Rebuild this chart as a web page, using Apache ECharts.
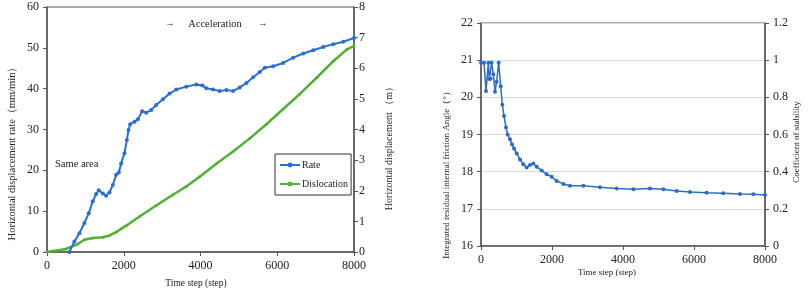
<!DOCTYPE html>
<html>
<head>
<meta charset="utf-8">
<script src="https://cdn.jsdelivr.net/npm/echarts@6/dist/echarts.min.js"></script>
<style>
  html, body { margin: 0; padding: 0; background: #fff; }
  #chart { width: 809px; height: 291px; }
</style>
</head>
<body>
<div id="chart"></div>
<script>
// ------------------------------
// Data
// ------------------------------
var rateSteps = [583, 714, 844, 975, 1088, 1193, 1280, 1349, 1454, 1541, 1628, 1715, 1802, 1871, 1932, 2019, 2081, 2124, 2167, 2281, 2368, 2481, 2585, 2716, 2846, 3021, 3195, 3369, 3630, 3891, 4048, 4152, 4326, 4500, 4675, 4849, 5023, 5197, 5371, 5545, 5676, 5893, 6154, 6415, 6677, 6938, 7199, 7460, 7721, 8000];
var rateValues = [0, 2.6, 4.6, 7.1, 9.5, 12.4, 14.2, 15.1, 14.3, 13.8, 14.6, 16.4, 18.9, 19.5, 21.7, 24.2, 27.4, 29.9, 31.3, 31.9, 32.5, 34.5, 34.1, 34.8, 36.0, 37.4, 38.8, 39.8, 40.5, 41.0, 40.8, 40.1, 39.8, 39.4, 39.7, 39.4, 40.3, 41.4, 42.8, 44.1, 45.1, 45.5, 46.3, 47.6, 48.6, 49.4, 50.2, 50.9, 51.5, 52.4];

var dislocSteps = [0, 496, 801, 975, 1193, 1454, 1628, 1802, 2063, 2411, 2846, 3282, 3630, 3978, 4413, 4849, 5284, 5719, 6154, 6590, 7025, 7460, 7808, 8000];
var dislocValues = [0, 0.1, 0.26, 0.40, 0.46, 0.48, 0.54, 0.65, 0.86, 1.16, 1.52, 1.87, 2.14, 2.46, 2.88, 3.28, 3.71, 4.17, 4.67, 5.16, 5.69, 6.23, 6.61, 6.73];

var angleSteps = [0, 85, 141, 207, 235, 272, 300, 347, 394, 441, 498, 554, 601, 648, 704, 751, 817, 873, 930, 1005, 1099, 1192, 1286, 1380, 1474, 1568, 1709, 1850, 1991, 2131, 2319, 2507, 2883, 3352, 3822, 4291, 4761, 5136, 5512, 5887, 6357, 6826, 7296, 7671, 8000];
var angleValues = [20.93, 20.93, 20.17, 20.93, 20.49, 20.5, 20.93, 20.62, 20.15, 20.42, 20.93, 20.3, 19.8, 19.5, 19.19, 19.0, 18.87, 18.74, 18.62, 18.49, 18.33, 18.2, 18.11, 18.18, 18.22, 18.13, 18.03, 17.93, 17.86, 17.75, 17.67, 17.62, 17.62, 17.58, 17.55, 17.53, 17.55, 17.53, 17.48, 17.45, 17.43, 17.42, 17.4, 17.39, 17.37];

function pairs(xs, ys) {
    return xs.map(function (x, i) { return [x, ys[i]]; });
}

var serif = '"Liberation Serif", "Times New Roman", serif';
var axisColor = '#555';
var labelStyle = { color: '#222', fontFamily: serif, fontSize: 12 };
var plain = function (v) { return String(+v.toFixed(1)); };

var chart = echarts.init(document.getElementById('chart'));

var option = {
    animation: false,
    grid: [
        { left: 47, top: 7, width: 307, height: 245, show: true, borderColor: axisColor, borderWidth: 1 },
        { left: 481, top: 23, width: 284, height: 223, show: true, borderColor: axisColor, borderWidth: 1 }
    ],

    legend: {
        data: ['Rate', 'Dislocation'],
        orient: 'vertical',
        left: 275,
        top: 154,
        borderColor: '#333',
        borderWidth: 1,
        padding: [6, 3, 6, 4],
        itemGap: 9,
        itemWidth: 20,
        itemHeight: 6,
        textStyle: { fontFamily: serif, fontSize: 10, color: '#222', padding: [0, 0, 0, -3] }
    },

    xAxis: [
        {
            gridIndex: 0, type: 'value', min: 0, max: 8000, interval: 2000,
            axisLine: { lineStyle: { color: axisColor, width: 1.5 } },
            axisTick: { length: 4, lineStyle: { color: axisColor } },
            axisLabel: Object.assign({ margin: 8, formatter: plain }, labelStyle),
            splitLine: { show: false }
        },
        {
            gridIndex: 1, type: 'value', min: 0, max: 8000, interval: 2000,
            axisLine: { lineStyle: { color: axisColor, width: 1.5 } },
            axisTick: { length: 4, lineStyle: { color: axisColor } },
            axisLabel: Object.assign({ margin: 8, formatter: plain }, labelStyle),
            splitLine: { show: false }
        }
    ],

    yAxis: [
        {
            gridIndex: 0, type: 'value', min: 0, max: 60, interval: 10, position: 'left',
            axisLine: { show: true, lineStyle: { color: axisColor, width: 1.5 } },
            axisTick: { show: true, length: 4, lineStyle: { color: axisColor } },
            axisLabel: Object.assign({ margin: 8 }, labelStyle),
            splitLine: { show: false }
        },
        {
            gridIndex: 0, type: 'value', min: 0, max: 8, interval: 1, position: 'right',
            axisLine: { show: true, lineStyle: { color: axisColor, width: 1.5 } },
            axisTick: { show: true, length: 4, lineStyle: { color: axisColor } },
            axisLabel: Object.assign({ margin: 5 }, labelStyle),
            splitLine: { show: false }
        },
        {
            gridIndex: 1, type: 'value', min: 16, max: 22, interval: 1, position: 'left',
            axisLine: { show: true, lineStyle: { color: axisColor, width: 1.5 } },
            axisTick: { show: true, length: 4, lineStyle: { color: axisColor } },
            axisLabel: Object.assign({ margin: 8 }, labelStyle),
            splitLine: { show: true, lineStyle: { color: '#d9d9d9', width: 1 } }
        },
        {
            gridIndex: 1, type: 'value', min: 0, max: 1.2, interval: 0.2, position: 'right',
            axisLine: { show: true, lineStyle: { color: axisColor, width: 1.5 } },
            axisTick: { show: true, length: 4, lineStyle: { color: axisColor } },
            axisLabel: Object.assign({ margin: 8, formatter: plain }, labelStyle),
            splitLine: { show: false }
        }
    ],

    // Axis names and notes
    graphic: [
        { type: 'text', x: 12, y: 151, rotation: Math.PI / 2,
          style: { text: 'Horizontal displacement rate（mm/min）', fontFamily: serif, fontSize: 10.5, fill: '#222', textAlign: 'center', textVerticalAlign: 'middle' } },
        { type: 'text', x: 389, y: 146, rotation: Math.PI / 2,
          style: { text: 'Horizontal displacement （m）', fontFamily: serif, fontSize: 10, fill: '#222', textAlign: 'center', textVerticalAlign: 'middle' } },
        { type: 'text', x: 196, y: 283,
          style: { text: 'Time step (step)', fontFamily: serif, fontSize: 9.5, fill: '#222', textAlign: 'center', textVerticalAlign: 'middle' } },
        { type: 'text', x: 170, y: 24,
          style: { text: '→', fontFamily: serif, fontSize: 9, fill: '#222', textAlign: 'center', textVerticalAlign: 'middle' } },
        { type: 'text', x: 215, y: 24,
          style: { text: 'Acceleration', fontFamily: serif, fontSize: 10.5, fill: '#222', textAlign: 'center', textVerticalAlign: 'middle' } },
        { type: 'text', x: 263, y: 24,
          style: { text: '→', fontFamily: serif, fontSize: 9, fill: '#222', textAlign: 'center', textVerticalAlign: 'middle' } },
        { type: 'text', x: 55, y: 164,
          style: { text: 'Same area', fontFamily: serif, fontSize: 10.5, fill: '#222', textAlign: 'left', textVerticalAlign: 'middle' } },
        { type: 'text', x: 447, y: 173, rotation: Math.PI / 2,
          style: { text: 'Integrated residual internal friction Angle（°）', fontFamily: serif, fontSize: 9, fill: '#222', textAlign: 'center', textVerticalAlign: 'middle' } },
        { type: 'text', x: 797, y: 142, rotation: Math.PI / 2,
          style: { text: 'Coefficient of stability', fontFamily: serif, fontSize: 9, fill: '#222', textAlign: 'center', textVerticalAlign: 'middle' } },
        { type: 'text', x: 607, y: 273,
          style: { text: 'Time step (step)', fontFamily: serif, fontSize: 9, fill: '#222', textAlign: 'center', textVerticalAlign: 'middle' } }
    ],

    series: [
        {
            name: 'Dislocation', type: 'line', xAxisIndex: 0, yAxisIndex: 1,
            data: pairs(dislocSteps, dislocValues),
            color: '#52b034',
            symbol: 'circle', symbolSize: 3, showAllSymbol: true,
            lineStyle: { width: 2.5 }
        },
        {
            name: 'Rate', type: 'line', xAxisIndex: 0, yAxisIndex: 0,
            data: pairs(rateSteps, rateValues),
            color: '#2a6fd0',
            symbol: 'circle', symbolSize: 4, showAllSymbol: true,
            lineStyle: { width: 2 }
        },
        {
            name: 'Angle', type: 'line', xAxisIndex: 1, yAxisIndex: 2,
            data: pairs(angleSteps, angleValues),
            color: '#2b6cc4',
            symbol: 'circle', symbolSize: 4, showAllSymbol: true,
            lineStyle: { width: 1.5 }
        }
    ]
};

chart.setOption(option);
</script>
</body>
</html>
